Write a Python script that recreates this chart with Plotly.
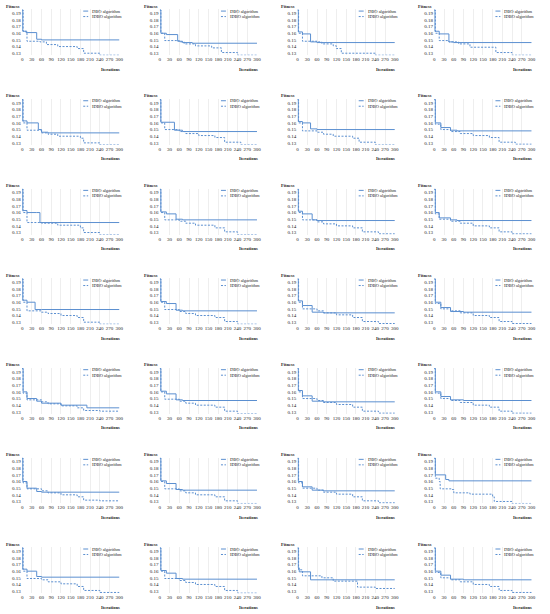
import plotly.graph_objects as go

# ---- data: step-curve breakpoints [iteration, fitness], one pair of curves per panel ----
x_ticks = list(range(0, 301, 30))
y_ticks = [0.13, 0.14, 0.15, 0.16, 0.17, 0.18, 0.19]
series_names = ["DBO algorithm", "IDBO algorithm"]

dbo_01 = [[0, 0.195], [2, 0.163], [12, 0.161], [45, 0.151], [60, 0.150], [300, 0.150]]
idbo_01 = [[0, 0.195], [3, 0.163], [15, 0.148], [55, 0.147], [75, 0.143], [110, 0.140], [170, 0.137], [190, 0.130], [240, 0.127], [300, 0.127]]
dbo_02 = [[0, 0.195], [3, 0.160], [20, 0.158], [55, 0.148], [70, 0.146], [100, 0.145], [300, 0.145]]
idbo_02 = [[0, 0.195], [3, 0.160], [15, 0.149], [60, 0.147], [75, 0.144], [110, 0.141], [160, 0.138], [190, 0.131], [240, 0.127], [300, 0.127]]
dbo_03 = [[0, 0.195], [2, 0.162], [15, 0.159], [40, 0.147], [60, 0.146], [300, 0.146]]
idbo_03 = [[0, 0.195], [3, 0.160], [15, 0.148], [60, 0.147], [75, 0.144], [110, 0.141], [120, 0.137], [135, 0.130], [240, 0.127], [300, 0.127]]
dbo_04 = [[0, 0.195], [2, 0.163], [15, 0.159], [45, 0.147], [60, 0.146], [300, 0.146]]
idbo_04 = [[0, 0.195], [3, 0.160], [15, 0.149], [45, 0.147], [75, 0.144], [110, 0.139], [190, 0.131], [240, 0.127], [300, 0.127]]

dbo_05 = [[0, 0.195], [2, 0.163], [15, 0.160], [50, 0.150], [60, 0.146], [80, 0.145], [300, 0.145]]
idbo_05 = [[0, 0.195], [3, 0.160], [15, 0.149], [60, 0.145], [80, 0.143], [110, 0.140], [180, 0.137], [190, 0.130], [240, 0.127], [300, 0.127]]
dbo_06 = [[0, 0.195], [3, 0.161], [45, 0.149], [70, 0.147], [300, 0.147]]
idbo_06 = [[0, 0.195], [3, 0.160], [15, 0.150], [60, 0.147], [80, 0.144], [120, 0.141], [170, 0.138], [200, 0.131], [250, 0.127], [300, 0.127]]
dbo_07 = [[0, 0.195], [2, 0.162], [15, 0.160], [40, 0.151], [60, 0.150], [300, 0.150]]
idbo_07 = [[0, 0.195], [3, 0.160], [15, 0.148], [60, 0.146], [80, 0.143], [110, 0.140], [170, 0.137], [190, 0.131], [240, 0.127], [300, 0.127]]
dbo_08 = [[0, 0.195], [3, 0.160], [20, 0.153], [50, 0.149], [70, 0.148], [300, 0.148]]
idbo_08 = [[0, 0.195], [3, 0.158], [20, 0.150], [50, 0.147], [80, 0.144], [120, 0.141], [170, 0.138], [200, 0.131], [250, 0.128], [300, 0.128]]

dbo_09 = [[0, 0.195], [2, 0.163], [15, 0.160], [45, 0.160], [55, 0.145], [300, 0.145]]
idbo_09 = [[0, 0.195], [3, 0.160], [15, 0.145], [60, 0.144], [110, 0.141], [180, 0.137], [190, 0.130], [240, 0.127], [300, 0.127]]
dbo_10 = [[0, 0.195], [3, 0.161], [20, 0.158], [50, 0.150], [70, 0.149], [300, 0.149]]
idbo_10 = [[0, 0.195], [3, 0.160], [15, 0.149], [60, 0.147], [80, 0.144], [110, 0.141], [170, 0.137], [200, 0.131], [240, 0.127], [300, 0.127]]
dbo_11 = [[0, 0.195], [2, 0.162], [15, 0.158], [45, 0.149], [60, 0.148], [300, 0.148]]
idbo_11 = [[0, 0.195], [3, 0.160], [15, 0.149], [60, 0.146], [80, 0.143], [120, 0.140], [170, 0.137], [200, 0.131], [250, 0.128], [300, 0.128]]
dbo_12 = [[0, 0.195], [3, 0.160], [15, 0.152], [50, 0.149], [70, 0.148], [300, 0.148]]
idbo_12 = [[0, 0.195], [3, 0.158], [15, 0.150], [50, 0.147], [80, 0.144], [120, 0.140], [170, 0.137], [200, 0.131], [240, 0.128], [300, 0.128]]

dbo_13 = [[0, 0.195], [2, 0.163], [15, 0.160], [40, 0.149], [60, 0.149], [300, 0.149]]
idbo_13 = [[0, 0.195], [3, 0.160], [15, 0.147], [60, 0.145], [80, 0.143], [120, 0.140], [170, 0.137], [190, 0.130], [240, 0.127], [300, 0.127]]
dbo_14 = [[0, 0.195], [3, 0.161], [20, 0.158], [50, 0.148], [70, 0.147], [300, 0.147]]
idbo_14 = [[0, 0.195], [3, 0.160], [15, 0.149], [60, 0.146], [80, 0.143], [110, 0.140], [170, 0.137], [200, 0.131], [240, 0.127], [300, 0.127]]
dbo_15 = [[0, 0.195], [2, 0.162], [15, 0.155], [45, 0.145], [80, 0.144], [300, 0.144]]
idbo_15 = [[0, 0.195], [3, 0.160], [15, 0.150], [60, 0.147], [80, 0.144], [120, 0.141], [170, 0.137], [200, 0.131], [250, 0.128], [300, 0.128]]
dbo_16 = [[0, 0.195], [3, 0.160], [20, 0.152], [50, 0.146], [90, 0.145], [300, 0.145]]
idbo_16 = [[0, 0.195], [3, 0.158], [20, 0.150], [50, 0.147], [80, 0.144], [120, 0.140], [170, 0.137], [200, 0.131], [240, 0.128], [300, 0.128]]

dbo_17 = [[0, 0.195], [3, 0.160], [15, 0.150], [45, 0.146], [60, 0.143], [120, 0.140], [200, 0.136], [300, 0.136]]
idbo_17 = [[0, 0.195], [3, 0.158], [15, 0.148], [60, 0.145], [80, 0.142], [120, 0.139], [170, 0.136], [190, 0.132], [240, 0.131], [300, 0.131]]
dbo_18 = [[0, 0.195], [3, 0.161], [20, 0.157], [50, 0.148], [70, 0.147], [300, 0.147]]
idbo_18 = [[0, 0.195], [3, 0.160], [15, 0.149], [60, 0.146], [80, 0.143], [110, 0.140], [170, 0.137], [200, 0.131], [240, 0.127], [300, 0.127]]
dbo_19 = [[0, 0.195], [2, 0.162], [15, 0.154], [45, 0.146], [80, 0.145], [300, 0.145]]
idbo_19 = [[0, 0.195], [3, 0.160], [15, 0.150], [60, 0.147], [80, 0.144], [120, 0.141], [170, 0.137], [200, 0.131], [250, 0.128], [300, 0.128]]
dbo_20 = [[0, 0.195], [3, 0.160], [20, 0.153], [50, 0.148], [90, 0.147], [300, 0.147]]
idbo_20 = [[0, 0.195], [3, 0.158], [20, 0.150], [50, 0.147], [80, 0.144], [120, 0.140], [170, 0.137], [200, 0.131], [240, 0.128], [300, 0.128]]

dbo_21 = [[0, 0.195], [2, 0.160], [15, 0.150], [45, 0.145], [60, 0.144], [300, 0.144]]
idbo_21 = [[0, 0.195], [3, 0.158], [15, 0.149], [60, 0.146], [80, 0.143], [120, 0.140], [170, 0.137], [190, 0.132], [240, 0.131], [300, 0.131]]
dbo_22 = [[0, 0.195], [3, 0.161], [20, 0.157], [50, 0.148], [70, 0.147], [300, 0.147]]
idbo_22 = [[0, 0.195], [3, 0.160], [15, 0.149], [60, 0.146], [80, 0.143], [110, 0.140], [170, 0.137], [200, 0.131], [240, 0.127], [300, 0.127]]
dbo_23 = [[0, 0.195], [2, 0.160], [15, 0.152], [45, 0.147], [80, 0.146], [300, 0.146]]
idbo_23 = [[0, 0.195], [3, 0.158], [15, 0.150], [60, 0.147], [80, 0.144], [120, 0.141], [170, 0.137], [200, 0.131], [250, 0.128], [300, 0.128]]
dbo_24 = [[0, 0.195], [3, 0.170], [35, 0.163], [45, 0.161], [300, 0.161]]
idbo_24 = [[0, 0.195], [3, 0.165], [15, 0.160], [18, 0.149], [55, 0.148], [60, 0.143], [110, 0.141], [180, 0.137], [185, 0.130], [240, 0.127], [300, 0.127]]

dbo_25 = [[0, 0.195], [2, 0.163], [15, 0.160], [45, 0.152], [60, 0.151], [300, 0.151]]
idbo_25 = [[0, 0.195], [3, 0.160], [15, 0.149], [60, 0.147], [80, 0.144], [120, 0.141], [170, 0.137], [190, 0.131], [240, 0.128], [300, 0.128]]
dbo_26 = [[0, 0.195], [3, 0.161], [20, 0.157], [50, 0.149], [70, 0.148], [300, 0.148]]
idbo_26 = [[0, 0.195], [3, 0.160], [15, 0.149], [60, 0.146], [80, 0.143], [110, 0.140], [170, 0.137], [200, 0.131], [240, 0.127], [300, 0.127]]
dbo_27 = [[0, 0.195], [2, 0.165], [5, 0.159], [40, 0.147], [300, 0.147]]
idbo_27 = [[0, 0.195], [3, 0.162], [15, 0.153], [75, 0.150], [110, 0.145], [185, 0.136], [240, 0.134], [300, 0.134]]
dbo_28 = [[0, 0.195], [3, 0.160], [20, 0.154], [50, 0.148], [90, 0.147], [300, 0.147]]
idbo_28 = [[0, 0.195], [3, 0.158], [20, 0.150], [50, 0.147], [80, 0.144], [120, 0.140], [170, 0.137], [200, 0.131], [240, 0.128], [300, 0.128]]

dbo_panels = [dbo_01, dbo_02, dbo_03, dbo_04, dbo_05, dbo_06, dbo_07, dbo_08, dbo_09, dbo_10,
              dbo_11, dbo_12, dbo_13, dbo_14, dbo_15, dbo_16, dbo_17, dbo_18, dbo_19, dbo_20,
              dbo_21, dbo_22, dbo_23, dbo_24, dbo_25, dbo_26, dbo_27, dbo_28]
idbo_panels = [idbo_01, idbo_02, idbo_03, idbo_04, idbo_05, idbo_06, idbo_07, idbo_08, idbo_09, idbo_10,
               idbo_11, idbo_12, idbo_13, idbo_14, idbo_15, idbo_16, idbo_17, idbo_18, idbo_19, idbo_20,
               idbo_21, idbo_22, idbo_23, idbo_24, idbo_25, idbo_26, idbo_27, idbo_28]

# ---- geometry (pixels) ----
W, H = 550, 614
N_COLS, N_ROWS = 4, 7
col_left = [21, 160, 299, 437]
plot_w = 99
row_pitch = 89.8
row_top0 = 9.3
plot_h = 46

FONT = "Liberation Serif, Times New Roman, serif"
LINE_COLOR = "#5b8fd0"
TEXT_COLOR = "#222222"
DASH = "2px,1.5px"


def px_x(px):
    return px / W


def px_y(py):
    return 1 - py / H


fig = go.Figure()
annotations = []
shapes = []

for i in range(N_ROWS * N_COLS):
    r, c = divmod(i, N_COLS)
    ax = "" if i == 0 else str(i + 1)
    left = col_left[c]
    top = row_top0 + row_pitch * r

    for pts, name, dash in ((dbo_panels[i], series_names[0], "solid"),
                            (idbo_panels[i], series_names[1], DASH)):
        fig.add_trace(go.Scatter(
            x=[p[0] for p in pts], y=[p[1] for p in pts],
            mode="lines", line=dict(color=LINE_COLOR, width=1, dash=dash, shape="hv"),
            name=name, showlegend=False, xaxis="x" + ax, yaxis="y" + ax,
        ))

    fig.layout["xaxis" + ax] = dict(
        domain=[px_x(left), px_x(left + plot_w)], anchor="y" + ax,
        range=[-1, 302], tickvals=x_ticks, tickangle=0,
        showgrid=True, gridcolor="#eeeeee", gridwidth=0.5,
        zeroline=False, showline=False, ticks="",
        tickfont=dict(family=FONT, size=5, color=TEXT_COLOR),
    )
    fig.layout["yaxis" + ax] = dict(
        domain=[px_y(top + plot_h), px_y(top)], anchor="x" + ax,
        range=[0.127, 0.196], tickvals=y_ticks, tickformat=".2f",
        showgrid=False, zeroline=False, showline=False, ticks="",
        tickfont=dict(family=FONT, size=5, color=TEXT_COLOR),
    )

    annotations.append(dict(
        text="<b>Fitness</b>", xref="paper", yref="paper", x=px_x(left - 18), y=px_y(top - 3),
        xanchor="left", yanchor="middle", showarrow=False,
        font=dict(family=FONT, size=4.5, color=TEXT_COLOR),
    ))
    annotations.append(dict(
        text="<b>Iterations</b>", xref="paper", yref="paper", x=px_x(left + 101), y=px_y(top + 60),
        xanchor="right", yanchor="middle", showarrow=False,
        font=dict(family=FONT, size=4.5, color=TEXT_COLOR),
    ))
    for k, (name, dash) in enumerate(((series_names[0], "solid"), (series_names[1], DASH))):
        ly = top + 1.8 + 5.5 * k
        shapes.append(dict(
            type="line", xref="paper", yref="paper",
            x0=px_x(left + 62), x1=px_x(left + 67), y0=px_y(ly), y1=px_y(ly),
            line=dict(color=LINE_COLOR, width=1, dash=dash),
        ))
        annotations.append(dict(
            text=name, xref="paper", yref="paper", x=px_x(left + 69), y=px_y(ly),
            xanchor="left", yanchor="middle", showarrow=False,
            font=dict(family=FONT, size=4.5, color=TEXT_COLOR),
        ))

fig.update_layout(
    width=W, height=H, margin=dict(l=0, r=0, t=0, b=0),
    paper_bgcolor="white", plot_bgcolor="white",
    annotations=annotations, shapes=shapes, showlegend=False,
)

# the page body has a default 8px margin; drop it so the figure sits at the window corner
fig.write_html("out.html", config={"displayModeBar": False},
               post_script="document.body.style.margin='0';")
